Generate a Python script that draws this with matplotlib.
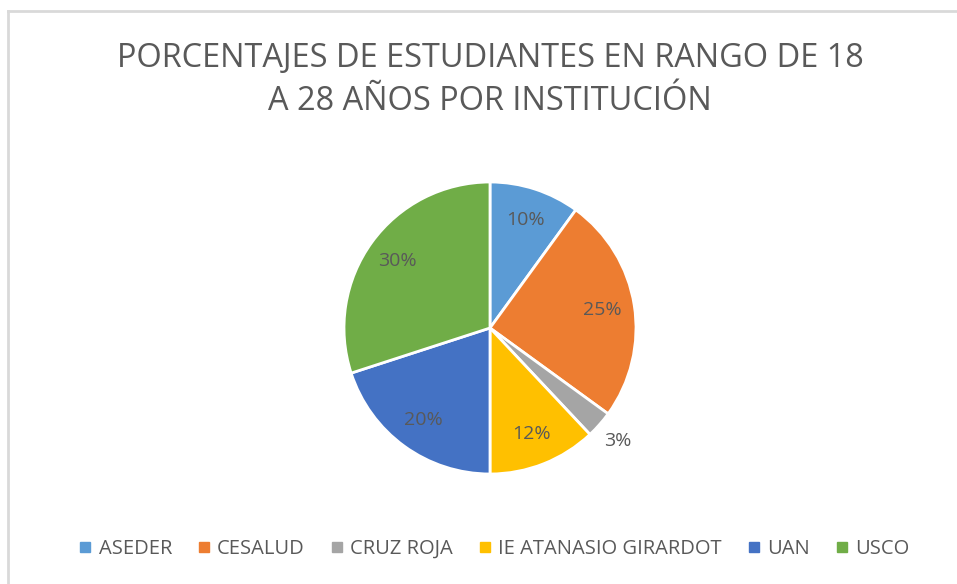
import matplotlib
matplotlib.use("Agg")
import matplotlib.pyplot as plt
from matplotlib.lines import Line2D
import numpy as np

categories = ["ASEDER", "CESALUD", "CRUZ ROJA", "IE ATANASIO GIRARDOT", "UAN", "USCO"]
values = [10, 25, 3, 12, 20, 30]
colors = ["#5B9BD5", "#ED7D31", "#A5A5A5", "#FFC000", "#4472C4", "#70AD47"]
title = "PORCENTAJES DE ESTUDIANTES EN RANGO DE 18\nA 28 AÑOS POR INSTITUCIÓN"

plt.rcParams['font.family'] = ['Open Sans', 'DejaVu Sans']
txt = "#595959"

W, H = 957, 584
fig = plt.figure(figsize=(W/100, H/100), dpi=100)
fig.patch.set_facecolor("white")

# border (top and left visible)
fig.add_artist(Line2D([8/W, 8/W], [0, 1 - 11/H], transform=fig.transFigure, color="#d9d9d9", lw=2))
fig.add_artist(Line2D([8/W, 1], [1 - 11/H, 1 - 11/H], transform=fig.transFigure, color="#d9d9d9", lw=2))

cx, cy, r = 490, 328, 146
ax = fig.add_axes([(cx - r)/W, (H - cy - r)/H, 2*r/W, 2*r/H])
wedges, texts, autotexts = ax.pie(values, colors=colors, startangle=90, counterclock=False,
                                  autopct=lambda p: f"{p:.0f}%", pctdistance=0.78,
                                  wedgeprops=dict(edgecolor="white", linewidth=2),
                                  textprops=dict(color=txt, fontsize=14))
# small slice label outside
for w, t, v in zip(wedges, autotexts, values):
    if v < 5:
        ang = np.deg2rad((w.theta1 + w.theta2) / 2)
        t.set_position((1.17*np.cos(ang), 1.17*np.sin(ang)))
ax.set_xlim(-1, 1); ax.set_ylim(-1, 1)
ax.set_aspect("equal")
ax.axis("off")

fig.text(490/W, 1 - 80/H, title, ha="center", va="center", fontsize=23.4, color=txt, linespacing=1.42)

handles = [Line2D([], [], marker="s", linestyle="none", markersize=7, color=c) for c in colors]
fig.legend(handles, categories, loc="center", bbox_to_anchor=(494/W, 1 - 549/H), ncol=6,
           frameon=False, fontsize=14.5, labelcolor=txt, handlelength=0.7, handletextpad=0.3,
           columnspacing=1.25)

fig.savefig("out.png", dpi=100, facecolor="white")
